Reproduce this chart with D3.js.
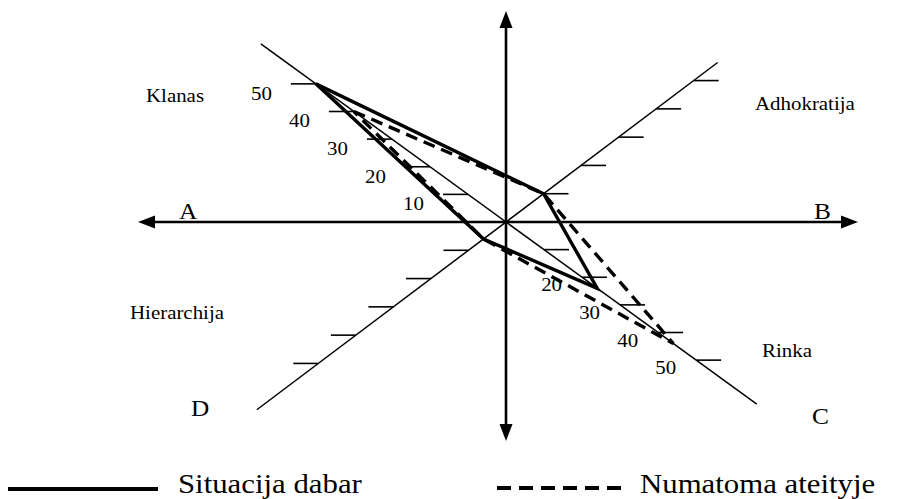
<!DOCTYPE html>
<html>
<head>
<meta charset="utf-8">
<script src="https://cdn.jsdelivr.net/npm/d3@7"></script>
<style>
  html, body { margin: 0; padding: 0; background: #fff; }
  svg { display: block; }
</style>
</head>
<body>
<svg id="chart" width="910" height="499" font-family="'Liberation Serif', 'Times New Roman', 'DejaVu Serif', serif"></svg>
<script>
// Culture profile on four diagonal axes (0–50 each)
const quadrants = ["Klanas", "Adhokratija", "Rinka", "Hierarchija"];
const currentValues = [50, 10, 24, 6];   // Situacija dabar
const futureValues  = [40, 10, 44, 6];   // Numatoma ateityje
const seriesNames = ["Situacija dabar", "Numatoma ateityje"];
const tickValues = [10, 20, 30, 40, 50];
const klanasTickLabels = ["10", "20", "30", "40", "50"];
const rinkaTickLabels = ["20", "30", "40", "50"];
const poleLabels = ["A", "B", "C", "D"];

const svg = d3.select("#chart");
const cx = 506, cy = 222;
const stretch = 1.1;   // slightly wide lettering

// radial value scale shared by all four diagonals
const r = d3.scaleLinear().domain([0, 50]).range([0, 235]);

// direction of each quadrant's diagonal (degrees, screen coords)
const dirs = {
  Klanas:      { a: 216, len: 303, side: -1 },
  Adhokratija: { a: -37, len: 265, side: 1 },
  Rinka:       { a: 36,  len: 310, side: 1 },
  Hierarchija: { a: 143, len: 312, side: -1 }
};
function pt(q, dist) {
  const a = dirs[q].a * Math.PI / 180;
  return [cx + Math.cos(a) * dist, cy + Math.sin(a) * dist];
}

// diagonals
const diag = svg.append("g").attr("stroke", "#000").attr("stroke-width", 1.5);
[["Klanas", "Rinka"], ["Hierarchija", "Adhokratija"]].forEach(([q1, q2]) => {
  const p1 = pt(q1, dirs[q1].len), p2 = pt(q2, dirs[q2].len);
  diag.append("line").attr("x1", p1[0]).attr("y1", p1[1]).attr("x2", p2[0]).attr("y2", p2[1]);
});

// tick marks on every diagonal
const ticks = svg.append("g").attr("stroke", "#000").attr("stroke-width", 1.6);
quadrants.forEach(q => {
  tickValues.forEach(v => {
    const p = pt(q, r(v));
    ticks.append("line")
      .attr("x1", p[0]).attr("y1", p[1])
      .attr("x2", p[0] + dirs[q].side * 25).attr("y2", p[1]);
  });
});

// main axes with arrowheads
const axes = svg.append("g");
axes.append("line").attr("x1", 150).attr("y1", cy).attr("x2", 846).attr("y2", cy)
  .attr("stroke", "#000").attr("stroke-width", 2.6);
axes.append("line").attr("x1", cx).attr("y1", 24).attr("x2", cx).attr("y2", 428)
  .attr("stroke", "#000").attr("stroke-width", 2.6);
const head = (tip, back, half, vertical) => vertical
  ? [[tip[0], tip[1]], [tip[0] - half, back], [tip[0] + half, back]]
  : [[tip[0], tip[1]], [back, tip[1] - half], [back, tip[1] + half]];
[
  head([138, cy], 155, 6.5, false),
  head([858, cy], 841, 6.5, false),
  head([cx, 11], 28, 6.5, true),
  head([cx, 441], 424, 6.5, true)
].forEach(poly => axes.append("path").attr("d", d3.line()(poly) + "Z").attr("fill", "#000"));

// tick labels along Klanas and Rinka diagonals
const labels = svg.append("g").attr("font-size", 19).attr("text-anchor", "end");
tickValues.forEach((v, i) => {
  const p = pt("Klanas", r(v));
  labels.append("text").attr("transform", `translate(${p[0] - 44},${p[1] + 16}) scale(${stretch},1)`)
    .text(klanasTickLabels[i]);
});
rinkaTickLabels.forEach(t => {
  const p = pt("Rinka", r(+t));
  labels.append("text").attr("transform", `translate(${p[0] - 20},${p[1] + 14}) scale(${stretch},1)`)
    .text(t);
});

// profile polygons
const polyLine = d3.line().curve(d3.curveLinearClosed);
const toPts = vals => quadrants.map((q, i) => pt(q, r(vals[i])));
svg.append("path").attr("d", polyLine(toPts(futureValues)))
  .attr("fill", "none").attr("stroke", "#000").attr("stroke-width", 3.4)
  .attr("stroke-dasharray", "12,7").attr("stroke-linejoin", "miter");
svg.append("path").attr("d", polyLine(toPts(currentValues)))
  .attr("fill", "none").attr("stroke", "#000").attr("stroke-width", 3.4)
  .attr("stroke-linejoin", "miter");

// quadrant names
const names = svg.append("g").attr("font-size", 19);
const namePos = { Klanas: [146, 102], Adhokratija: [755, 110], Rinka: [762, 357], Hierarchija: [130, 319] };
quadrants.forEach(q => {
  names.append("text").attr("transform", `translate(${namePos[q][0]},${namePos[q][1]}) scale(${stretch},1)`).text(q);
});

// pole letters
const poles = svg.append("g").attr("font-size", 23);
const polePos = [[179, 219], [814, 219], [812, 424], [191, 416]];
poleLabels.forEach((t, i) => {
  poles.append("text").attr("transform", `translate(${polePos[i][0]},${polePos[i][1]}) scale(${stretch},1)`).text(t);
});

// legend
const legend = svg.append("g");
legend.append("line").attr("x1", 8).attr("y1", 489).attr("x2", 158).attr("y2", 489)
  .attr("stroke", "#000").attr("stroke-width", 4);
legend.append("line").attr("x1", 497).attr("y1", 488).attr("x2", 621).attr("y2", 488)
  .attr("stroke", "#000").attr("stroke-width", 4).attr("stroke-dasharray", "14,8");
legend.append("text").attr("font-size", 28)
  .attr("transform", `translate(178,493) scale(${stretch},1)`).text(seriesNames[0]);
legend.append("text").attr("font-size", 28)
  .attr("transform", `translate(640,493) scale(${stretch},1)`).text(seriesNames[1]);
</script>
</body>
</html>
